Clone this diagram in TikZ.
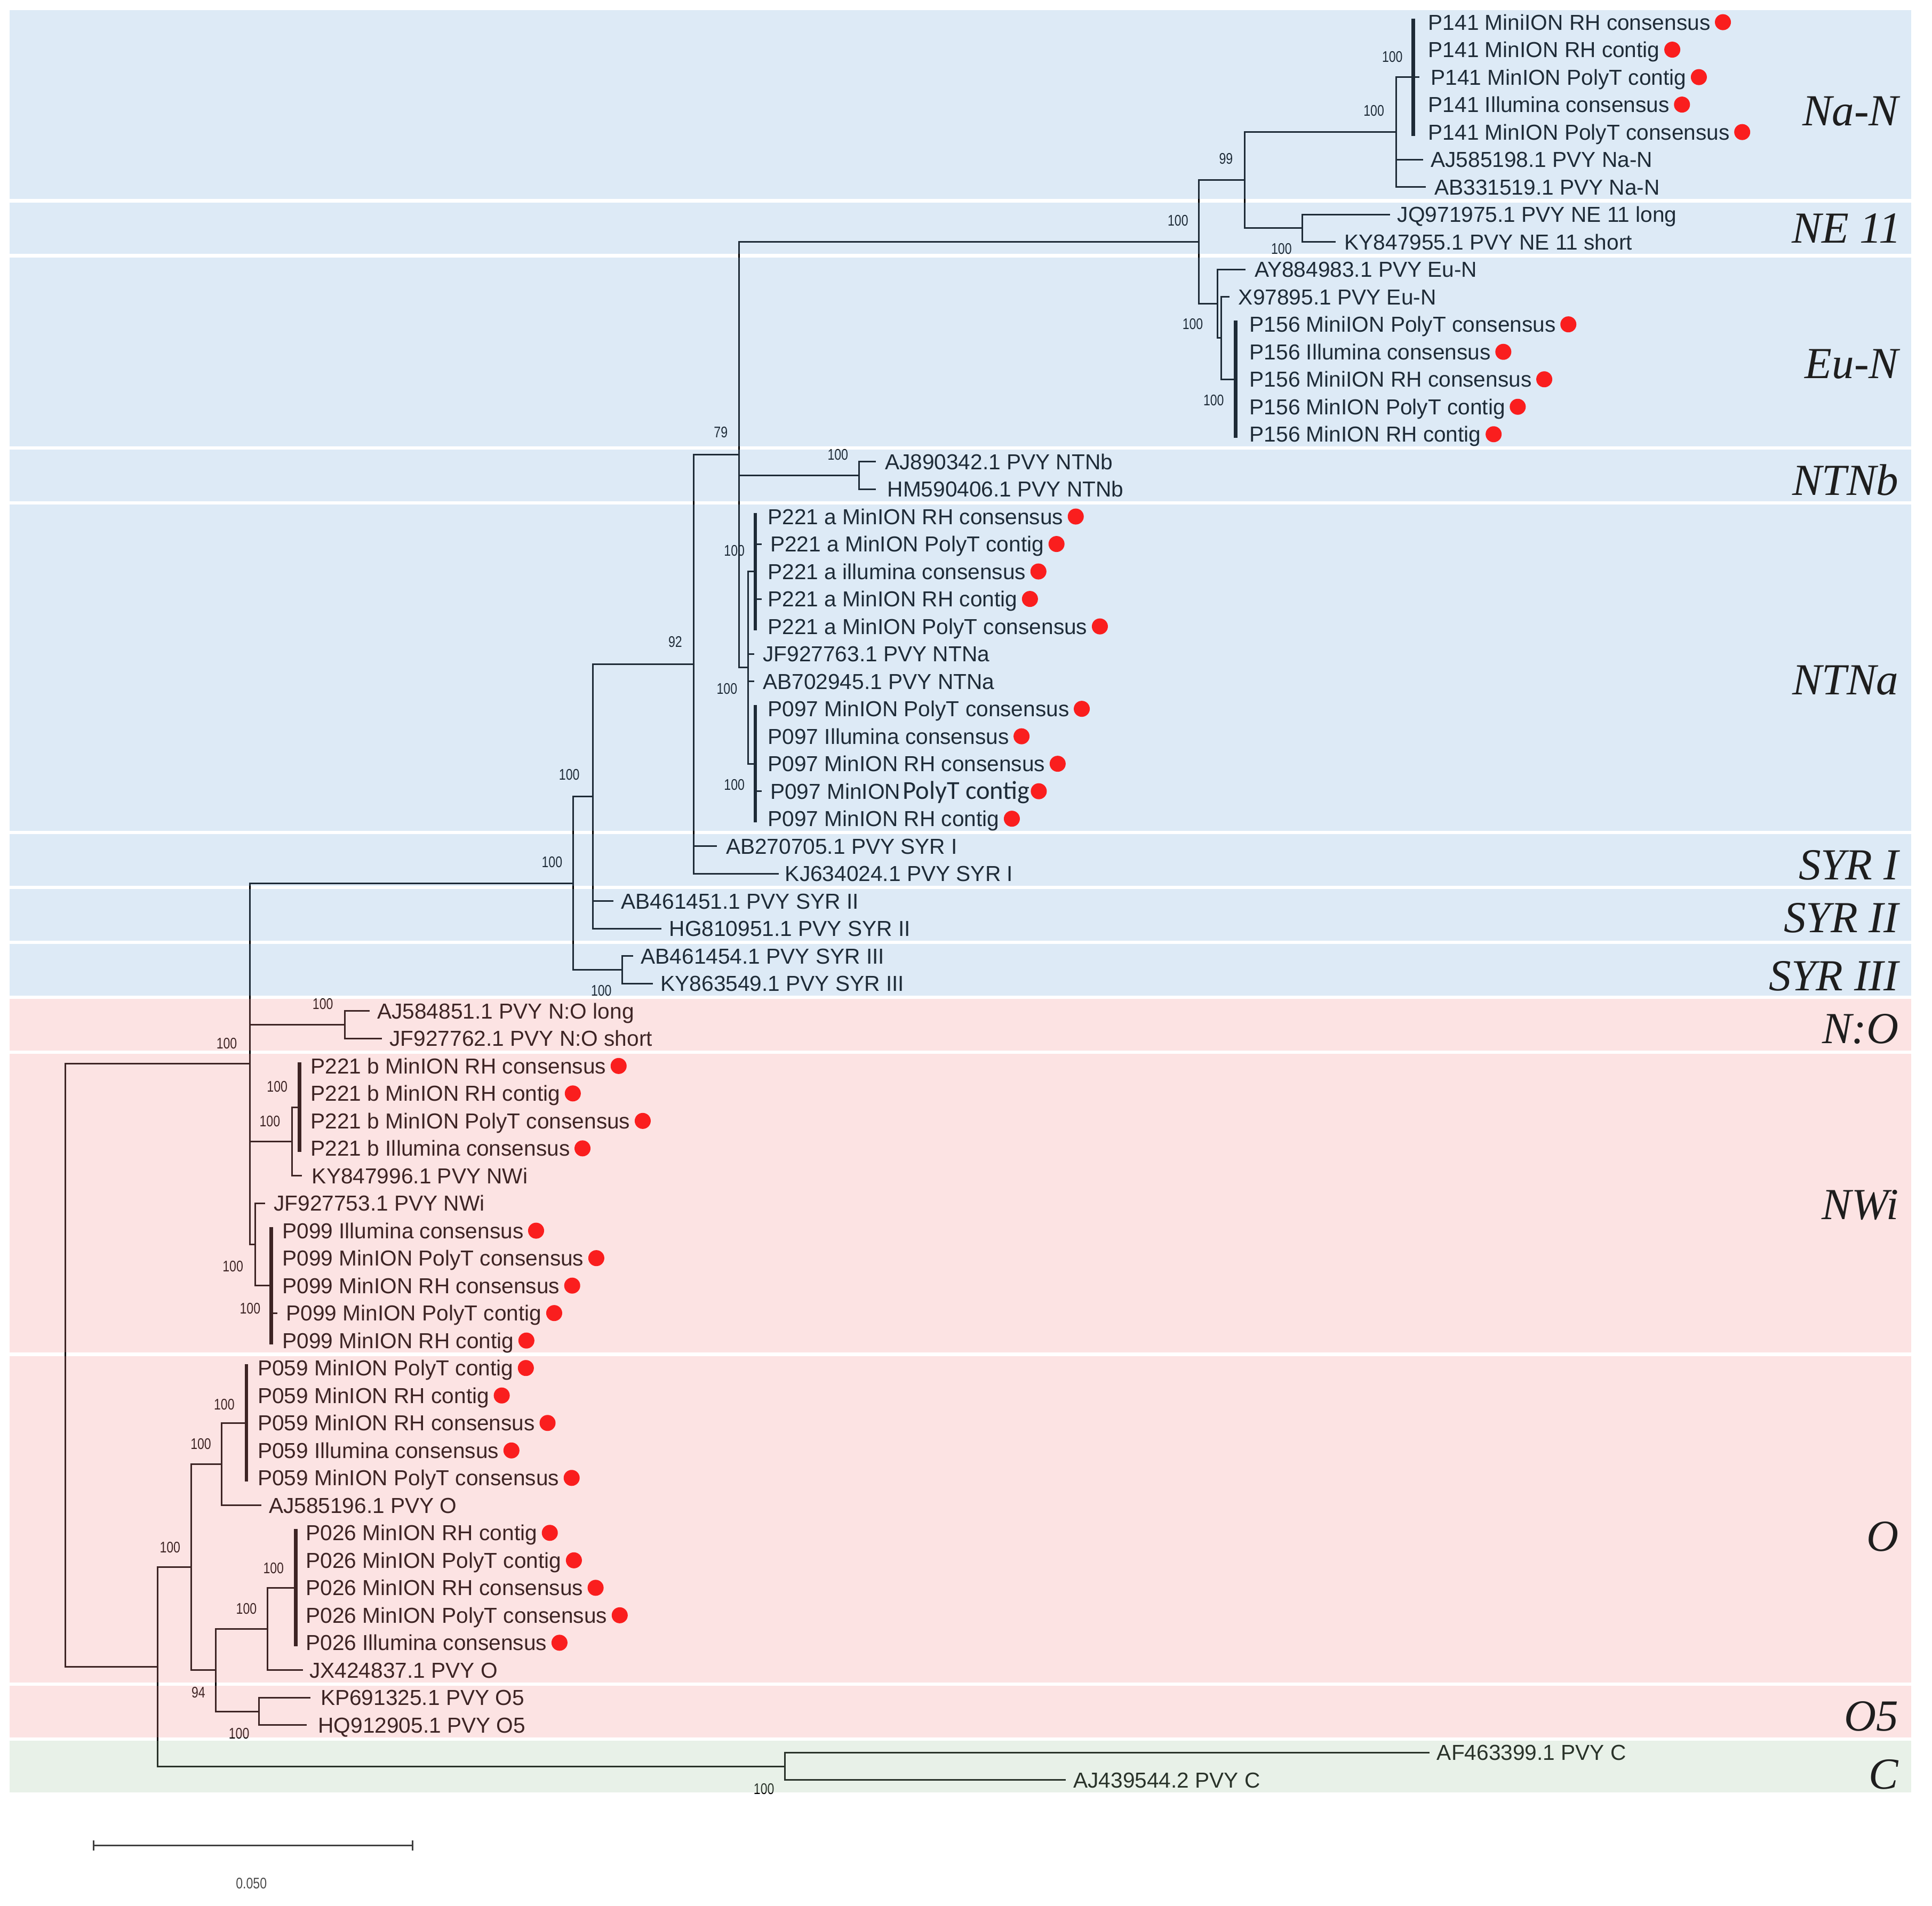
\documentclass[tikz,border=0pt]{standalone}
\usepackage{fontspec}
\usepackage{graphicx}
\setmainfont{Liberation Sans}
\newfontfamily\grpfont{Liberation Serif}
\newfontfamily\carlitofont{Carlito}
\definecolor{bandblue}{RGB}{123,175,223}
\definecolor{bandpink}{RGB}{247,147,147}
\definecolor{bandgreen}{RGB}{167,203,167}
\definecolor{dotred}{RGB}{250,30,30}
\definecolor{ink}{RGB}{0,0,0}
\definecolor{grpink}{RGB}{30,30,30}
\newcommand\leafL[4]{\node[lab] (#1) at (#2,{#3+6.3}) {#4};}
\newcommand\redD[1]{\node[rdot] (#1d) at ([xshift=10pt,yshift=6.3pt]#1.base east) {};}
\newcommand\supL[4]{\node[sup] (#1) at (#2,#3) {\scalebox{0.8}[1]{#4}};}
\newcommand\bandR[4]{\fill[band,fill=#2] (8,{#3-9.8}) rectangle (1551,{#4+9.8});}
\begin{document}
\begin{tikzpicture}[x=1pt,y=-1pt,
  br/.style={line width=1.3pt, draw=ink},
  thk/.style={line width=3pt, draw=ink},
  lab/.style={font=\fontsize{17.6}{20}\selectfont, text=ink, inner sep=0pt, anchor=base west},
  sup/.style={font=\fontsize{12.5}{14}\selectfont, text=ink, inner sep=0pt},
  band/.style={fill opacity=0.25, draw=none},
  grp/.style={font=\grpfont\itshape\fontsize{36}{40}\selectfont, text=grpink, inner sep=0pt, anchor=base east},
  rdot/.style={circle, fill=dotred, draw=none, minimum size=13pt, inner sep=0pt},
  sbar/.style={line width=1.3pt, draw=black!75}
]
\useasboundingbox (0,0) rectangle (1568,1546.8);
\fill[white] (0,0) rectangle (1568,1546.8);

% ---------- internal nodes ----------
\coordinate (root) at (53,1108.25);
\coordinate (n203) at (203,863.5);
\coordinate (n465) at (465,716.9);
\coordinate (n481) at (481,646.5);
\coordinate (n92) at (563,539.2);
\coordinate (n79) at (600,369.2);
\coordinate (n973) at (973,196.4);
\coordinate (n99) at (1010,146.2);
\coordinate (n1133) at (1133,107.2);
\coordinate (c141) at (1147,62.6);
\coordinate (nNE) at (1057,185.25);
\coordinate (nA) at (988,246.6);
\coordinate (nB) at (991,274.45);
\coordinate (c156) at (1003,307.9);
\coordinate (nNTNb) at (697,385.9);
\coordinate (nNTNa) at (607,541.95);
\coordinate (c221a) at (613,463.9);
\coordinate (c097) at (613,620.0);
\coordinate (nS3) at (505,787.25);
\coordinate (nNO) at (280,831.85);
\coordinate (n237) at (237,926.6);
\coordinate (c221b) at (243,898.75);
\coordinate (n207) at (207,1010.15);
\coordinate (c099) at (220,1043.6);
\coordinate (n128) at (128,1353.0);
\coordinate (n155) at (155,1272.2);
\coordinate (n180) at (180,1188.55);
\coordinate (c059) at (200,1155.1);
\coordinate (n175) at (175,1355.8);
\coordinate (n217) at (217,1322.35);
\coordinate (c026) at (240,1288.9);
\coordinate (nO5) at (210,1389.25);
\coordinate (nC) at (637,1433.85);

% ---------- leaf tips ----------
\coordinate (t6) at (1155,129.5);
\coordinate (t7) at (1157,151.8);
\coordinate (t8) at (1128,174.1);
\coordinate (t9) at (1084,196.4);
\coordinate (t10) at (1011,218.7);
\coordinate (t11) at (998,241.0);
\coordinate (t17) at (711,374.8);
\coordinate (t18) at (711,397.0);
\coordinate (t24) at (612,530.8);
\coordinate (t25) at (612,553.1);
\coordinate (t31) at (582,686.9);
\coordinate (t32) at (632,709.2);
\coordinate (t33) at (498,731.5);
\coordinate (t34) at (537,753.8);
\coordinate (t35) at (514,776.1);
\coordinate (t36) at (530,798.4);
\coordinate (t37) at (300,820.7);
\coordinate (t38) at (310,843.0);
\coordinate (t43) at (245,954.4);
\coordinate (t44) at (215,976.7);
\coordinate (t55) at (212,1222.0);
\coordinate (t61) at (246,1355.8);
\coordinate (t62) at (252,1378.1);
\coordinate (t63) at (249,1400.4);
\coordinate (t64) at (1160,1422.7);
\coordinate (t65) at (865,1445.0);

% ---------- branches ----------
\draw[br] (root) |- (n203) (root) |- (n128);
\draw[br] (n203) |- (n465) (n203) |- (nNO) (n203) |- (n237) (n203) |- (n207);
\draw[br] (n465) |- (n481) (n465) |- (nS3);
\draw[br] (nS3) |- (t35) (nS3) |- (t36);
\draw[br] (n481) |- (n92) (n481) |- (t33) (n481) |- (t34);
\draw[br] (n92) |- (n79) (n92) |- (t31) (n92) |- (t32);
\draw[br] (n79) |- (n973) (n79) |- (nNTNb) (n79) |- (nNTNa);
\draw[br] (nNTNb) |- (t17) (nNTNb) |- (t18);
\draw[br] (nNTNa) |- (c221a) (nNTNa) |- (t24) (nNTNa) |- (t25) (nNTNa) |- (c097);
\draw[br] (n973) |- (n99) (n973) |- (nA);
\draw[br] (n99) |- (n1133) (n99) |- (nNE);
\draw[br] (n1133) |- (c141) (n1133) |- (t6) (n1133) |- (t7);
\draw[br] (nNE) |- (t8) (nNE) |- (t9);
\draw[br] (nA) |- (t10) (nA) |- (nB);
\draw[br] (nB) |- (t11) (nB) |- (c156);
\draw[br] (nNO) |- (t37) (nNO) |- (t38);
\draw[br] (n237) |- (c221b) (n237) |- (t43);
\draw[br] (n207) |- (t44) (n207) |- (c099);
\draw[br] (n128) |- (n155) (n128) |- (nC);
\draw[br] (n155) |- (n180) (n155) |- (n175);
\draw[br] (n180) |- (c059) (n180) |- (t55);
\draw[br] (n175) |- (n217) (n175) |- (nO5);
\draw[br] (n217) |- (c026) (n217) |- (t61);
\draw[br] (nO5) |- (t62) (nO5) |- (t63);
\draw[br] (nC) |- (t64) (nC) |- (t65);

% ---------- collapsed clades ----------
\draw[thk] (1147,15) -- (1147,110.2);
\draw[thk] (1003,260.3) -- (1003,355.5);
\draw[thk] (613,416.3) -- (613,511.5);
\draw[thk] (613,572.4) -- (613,667.6);
\draw[thk] (243,862.3) -- (243,935.2);
\draw[thk] (220,996) -- (220,1091.2);
\draw[thk] (200,1107.5) -- (200,1202.7);
\draw[thk] (240,1241.3) -- (240,1336.5);
\draw[br] (1147,62.6) -- (1152,62.6) (613,441.6) -- (618,441.6) (613,486.2) -- (618,486.2)
  (613,642.3) -- (618,642.3) (220,1065.9) -- (225,1065.9);

% ---------- leaf labels ----------
\leafL{l1}{1159}{18.0}{P141 MiniION RH consensus}
\leafL{l2}{1159}{40.3}{P141 MinION RH contig}
\leafL{l3}{1161}{62.6}{P141 MinION PolyT contig}
\leafL{l4}{1159}{84.9}{P141 Illumina consensus}
\leafL{l5}{1159}{107.2}{P141 MinION PolyT consensus}
\leafL{l6}{1161}{129.5}{AJ585198.1 PVY Na-N}
\leafL{l7}{1164}{151.8}{AB331519.1 PVY Na-N}
\leafL{l8}{1134}{174.1}{JQ971975.1 PVY NE 11 long}
\leafL{l9}{1091}{196.4}{KY847955.1 PVY NE 11 short}
\leafL{l10}{1018}{218.7}{AY884983.1 PVY Eu-N}
\leafL{l11}{1005}{241.0}{X97895.1 PVY Eu-N}
\leafL{l12}{1014}{263.3}{P156 MiniION PolyT consensus}
\leafL{l13}{1014}{285.6}{P156 Illumina consensus}
\leafL{l14}{1014}{307.9}{P156 MiniION RH consensus}
\leafL{l15}{1014}{330.2}{P156 MinION PolyT contig}
\leafL{l16}{1014}{352.5}{P156 MinION RH contig}
\leafL{l17}{718}{374.8}{AJ890342.1 PVY NTNb}
\leafL{l18}{720}{397.0}{HM590406.1 PVY NTNb}
\leafL{l19}{623}{419.3}{P221 a MinION RH consensus}
\leafL{l20}{625}{441.6}{P221 a MinION PolyT contig}
\leafL{l21}{623}{463.9}{P221 a illumina consensus}
\leafL{l22}{623}{486.2}{P221 a MinION RH contig}
\leafL{l23}{623}{508.5}{P221 a MinION PolyT consensus}
\leafL{l24}{619}{530.8}{JF927763.1 PVY NTNa}
\leafL{l25}{619}{553.1}{AB702945.1 PVY NTNa}
\leafL{l26}{623}{575.4}{P097 MinION PolyT consensus}
\leafL{l27}{623}{597.7}{P097 Illumina consensus}
\leafL{l28}{623}{620.0}{P097 MinION RH consensus}
\leafL{l29}{625}{642.3}{P097 MinION\hspace{2pt}{\carlitofont\fontsize{21}{24}\selectfont PolyT contig}}
\leafL{l30}{623}{664.6}{P097 MinION RH contig}
\leafL{l31}{589}{686.9}{AB270705.1 PVY SYR I}
\leafL{l32}{637}{709.2}{KJ634024.1 PVY SYR I}
\leafL{l33}{504}{731.5}{AB461451.1 PVY SYR II}
\leafL{l34}{543}{753.8}{HG810951.1 PVY SYR II}
\leafL{l35}{520}{776.1}{AB461454.1 PVY SYR III}
\leafL{l36}{536}{798.4}{KY863549.1 PVY SYR III}
\leafL{l37}{306}{820.7}{AJ584851.1 PVY N:O long}
\leafL{l38}{316}{843.0}{JF927762.1 PVY N:O short}
\leafL{l39}{252}{865.3}{P221 b MinION RH consensus}
\leafL{l40}{252}{887.6}{P221 b MinION RH contig}
\leafL{l41}{252}{909.9}{P221 b MinION PolyT consensus}
\leafL{l42}{252}{932.2}{P221 b Illumina consensus}
\leafL{l43}{253}{954.4}{KY847996.1 PVY NWi}
\leafL{l44}{222}{976.7}{JF927753.1 PVY NWi}
\leafL{l45}{229}{999.0}{P099 Illumina consensus}
\leafL{l46}{229}{1021.3}{P099 MinION PolyT consensus}
\leafL{l47}{229}{1043.6}{P099 MinION RH consensus}
\leafL{l48}{232}{1065.9}{P099 MinION PolyT contig}
\leafL{l49}{229}{1088.2}{P099 MinION RH contig}
\leafL{l50}{209}{1110.5}{P059 MinION PolyT contig}
\leafL{l51}{209}{1132.8}{P059 MinION RH contig}
\leafL{l52}{209}{1155.1}{P059 MinION RH consensus}
\leafL{l53}{209}{1177.4}{P059 Illumina consensus}
\leafL{l54}{209}{1199.7}{P059 MinION PolyT consensus}
\leafL{l55}{218}{1222.0}{AJ585196.1 PVY O}
\leafL{l56}{248}{1244.3}{P026 MinION RH contig}
\leafL{l57}{248}{1266.6}{P026 MinION PolyT contig}
\leafL{l58}{248}{1288.9}{P026 MinION RH consensus}
\leafL{l59}{248}{1311.2}{P026 MinION PolyT consensus}
\leafL{l60}{248}{1333.5}{P026 Illumina consensus}
\leafL{l61}{251}{1355.8}{JX424837.1 PVY O}
\leafL{l62}{260}{1378.1}{KP691325.1 PVY O5}
\leafL{l63}{258}{1400.4}{HQ912905.1 PVY O5}
\leafL{l64}{1166}{1422.7}{AF463399.1 PVY C}
\leafL{l65}{871}{1445.0}{AJ439544.2 PVY C}

% ---------- support values ----------
\supL{s1}{1130}{46}{100}
\supL{s2}{1115}{90}{100}
\supL{s3}{995}{129}{99}
\supL{s4}{956}{179}{100}
\supL{s5}{1040}{202}{100}
\supL{s6}{968}{263}{100}
\supL{s7}{985}{325}{100}
\supL{s8}{585}{351}{79}
\supL{s9}{680}{369}{100}
\supL{s10}{596}{447}{100}
\supL{s11}{590}{559}{100}
\supL{s12}{596}{637}{100}
\supL{s13}{548}{521}{92}
\supL{s14}{462}{629}{100}
\supL{s15}{448}{700}{100}
\supL{s16}{488}{804}{100}
\supL{s17}{262}{815}{100}
\supL{s18}{184}{847}{100}
\supL{s19}{225}{882}{100}
\supL{s20}{219}{910}{100}
\supL{s21}{189}{1028}{100}
\supL{s22}{203}{1062}{100}
\supL{s23}{182}{1140}{100}
\supL{s24}{163}{1172}{100}
\supL{s25}{138}{1256}{100}
\supL{s26}{222}{1273}{100}
\supL{s27}{200}{1306}{100}
\supL{s28}{161}{1374}{94}
\supL{s29}{194}{1407}{100}
\supL{s30}{620}{1452}{100}

% ---------- coloured bands (translucent overlay) ----------
\bandR{Na-N}{bandblue}{18.0}{151.8}
\bandR{NE11}{bandblue}{174.1}{196.4}
\bandR{Eu-N}{bandblue}{218.7}{352.5}
\bandR{NTNb}{bandblue}{374.8}{397.0}
\bandR{NTNa}{bandblue}{419.3}{664.6}
\bandR{SYRI}{bandblue}{686.9}{709.2}
\bandR{SYRII}{bandblue}{731.5}{753.8}
\bandR{SYRIII}{bandblue}{776.1}{798.4}
\bandR{NO}{bandpink}{820.7}{843.0}
\bandR{NWi}{bandpink}{865.3}{1088.2}
\bandR{O}{bandpink}{1110.5}{1355.8}
\bandR{O5}{bandpink}{1378.1}{1400.4}
\bandR{C}{bandgreen}{1422.7}{1445.0}

% ---------- red dots ----------
\redD{l1}\redD{l2}\redD{l3}\redD{l4}\redD{l5}
\redD{l12}\redD{l13}\redD{l14}\redD{l15}\redD{l16}
\redD{l19}\redD{l20}\redD{l21}\redD{l22}\redD{l23}
\redD{l26}\redD{l27}\redD{l28}\redD{l30}
\node[rdot] (l29d) at ([xshift=7pt,yshift=6.3pt]l29.base east) {};
\redD{l39}\redD{l40}\redD{l41}\redD{l42}
\redD{l45}\redD{l46}\redD{l47}\redD{l48}\redD{l49}
\redD{l50}\redD{l51}\redD{l52}\redD{l53}\redD{l54}
\redD{l56}\redD{l57}\redD{l58}\redD{l59}\redD{l60}

% ---------- group labels ----------
\node[grp] (gNaN) at (1541,102) {Na-N};
\node[grp] (gNE) at (1543,197) {NE 11};
\node[grp] (gEuN) at (1541,307) {Eu-N};
\node[grp] (gNTNb) at (1541,402) {NTNb};
\node[grp] (gNTNa) at (1541,564) {NTNa};
\node[grp] (gS1) at (1541,714) {SYR I};
\node[grp] (gS2) at (1541,757) {SYR II};
\node[grp] (gS3) at (1541,804) {SYR III};
\node[grp] (gNO) at (1541,847) {N:O};
\node[grp] (gNWi) at (1541,990) {NWi};
\node[grp] (gO) at (1541,1259) {O};
\node[grp] (gO5) at (1541,1405) {O5};
\node[grp] (gC) at (1541,1452) {C};

% ---------- scale bar ----------
\coordinate (sbL) at (76,1498);
\coordinate (sbR) at (335,1498);
\draw[sbar] (sbL) -- (sbR);
\draw[sbar] ([yshift=4pt]sbL) -- ([yshift=-4pt]sbL);
\draw[sbar] ([yshift=4pt]sbR) -- ([yshift=-4pt]sbR);
\node[sup, text=black!70] (sblab) at (204,1529) {\scalebox{0.8}[1]{0.050}};
\end{tikzpicture}
\end{document}
